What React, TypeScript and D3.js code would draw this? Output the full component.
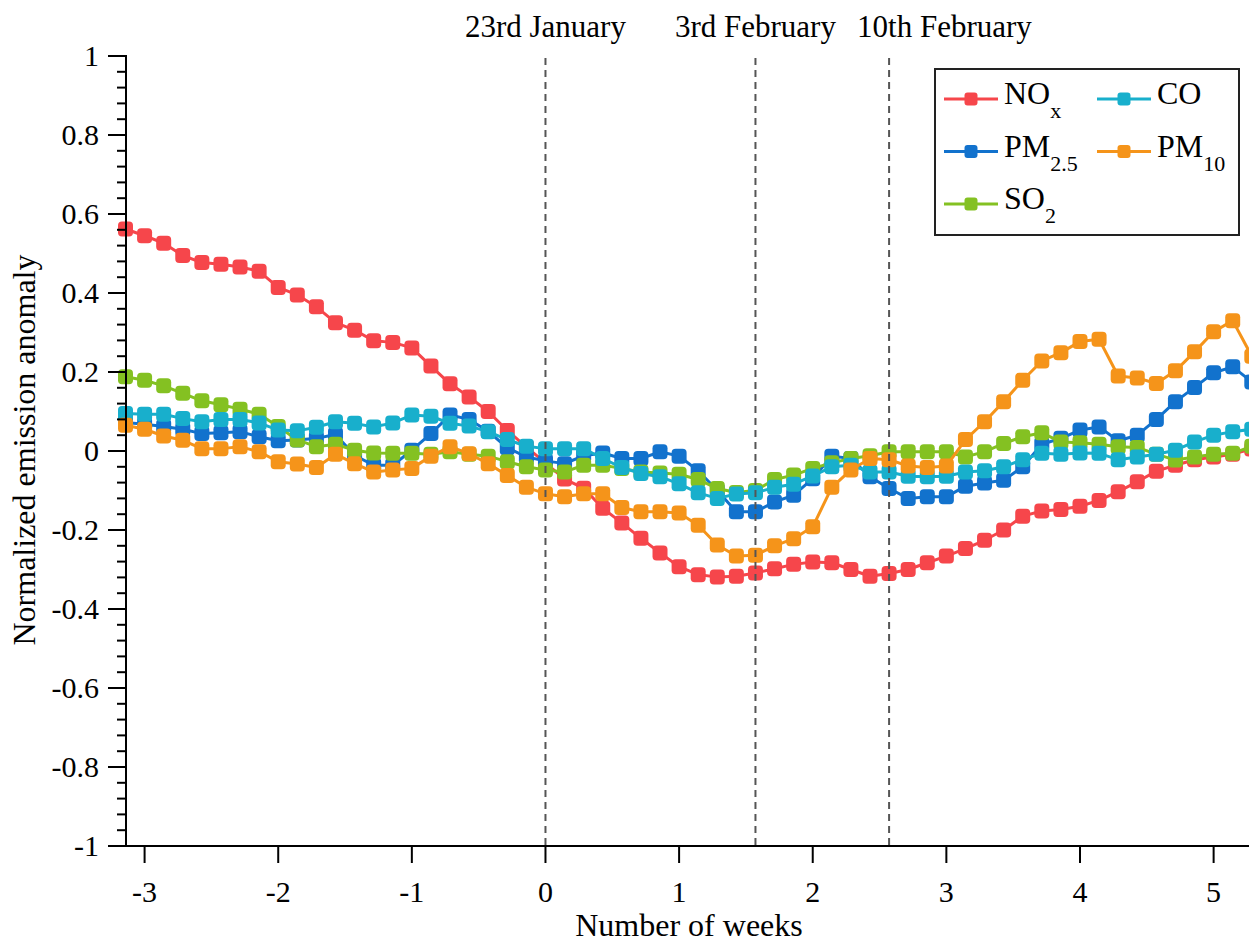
import React from 'react';
import * as d3 from 'd3';

// Day offsets relative to 23rd January (daily points)
const dayIndex: number[] = d3.range(-22, 38);

const noxValues = [
  0.562, 0.545, 0.526, 0.495, 0.477, 0.473, 0.466, 0.455, 0.414, 0.395,
  0.365, 0.325, 0.306, 0.279, 0.275, 0.261, 0.215, 0.170, 0.137, 0.100,
  0.052, 0.010, -0.030, -0.071, -0.094, -0.145, -0.182, -0.221, -0.258, -0.293,
  -0.313, -0.319, -0.317, -0.309, -0.298, -0.287, -0.281, -0.283, -0.300, -0.317,
  -0.310, -0.300, -0.283, -0.266, -0.247, -0.226, -0.200, -0.165, -0.152, -0.148,
  -0.140, -0.125, -0.103, -0.078, -0.051, -0.036, -0.022, -0.015, -0.008, 0.005,
];

const pm25Values = [
  0.072, 0.068, 0.062, 0.055, 0.044, 0.046, 0.049, 0.036, 0.026, 0.028,
  0.032, 0.042, -0.011, -0.036, -0.036, 0.002, 0.044, 0.091, 0.080, 0.050,
  0.008, -0.015, -0.025, -0.032, -0.012, -0.005, -0.019, -0.019, -0.002, -0.013,
  -0.050, -0.100, -0.154, -0.154, -0.129, -0.112, -0.070, -0.013, -0.019, -0.065,
  -0.095, -0.120, -0.116, -0.116, -0.089, -0.081, -0.074, -0.040, 0.017, 0.032,
  0.053, 0.061, 0.026, 0.040, 0.080, 0.125, 0.161, 0.198, 0.213, 0.175,
];

const so2Values = [
  0.188, 0.179, 0.165, 0.146, 0.127, 0.117, 0.106, 0.093, 0.062, 0.028,
  0.011, 0.017, 0.002, -0.005, -0.006, -0.006, -0.008, -0.002, -0.008, -0.013,
  -0.027, -0.040, -0.048, -0.053, -0.036, -0.036, -0.044, -0.053, -0.056, -0.059,
  -0.072, -0.095, -0.105, -0.100, -0.072, -0.061, -0.044, -0.030, -0.019, -0.012,
  -0.002, -0.002, -0.002, -0.002, -0.015, -0.002, 0.019, 0.036, 0.046, 0.023,
  0.021, 0.017, 0.011, 0.009, -0.008, -0.023, -0.015, -0.008, -0.006, 0.012,
];

const coValues = [
  0.095, 0.093, 0.093, 0.082, 0.074, 0.080, 0.080, 0.071, 0.053, 0.051,
  0.060, 0.074, 0.070, 0.061, 0.071, 0.091, 0.088, 0.070, 0.063, 0.049,
  0.029, 0.012, 0.006, 0.006, 0.006, -0.019, -0.042, -0.057, -0.065, -0.083,
  -0.106, -0.120, -0.109, -0.106, -0.092, -0.084, -0.063, -0.040, -0.036, -0.053,
  -0.053, -0.064, -0.065, -0.064, -0.053, -0.050, -0.040, -0.022, -0.006, -0.008,
  -0.005, -0.006, -0.022, -0.015, -0.008, 0.002, 0.023, 0.040, 0.049, 0.055,
];

const pm10Values = [
  0.065, 0.055, 0.038, 0.027, 0.006, 0.006, 0.011, -0.002, -0.027, -0.033,
  -0.042, -0.008, -0.032, -0.053, -0.048, -0.044, -0.013, 0.011, -0.007, -0.032,
  -0.062, -0.092, -0.108, -0.116, -0.108, -0.108, -0.143, -0.154, -0.154, -0.157,
  -0.188, -0.238, -0.266, -0.264, -0.240, -0.222, -0.192, -0.092, -0.048, -0.019,
  -0.022, -0.038, -0.042, -0.038, 0.029, 0.074, 0.125, 0.179, 0.228, 0.249,
  0.277, 0.283, 0.190, 0.185, 0.171, 0.203, 0.251, 0.302, 0.330, 0.240,
];

const seriesKeys = ['NOx', 'PM2.5', 'SO2', 'CO', 'PM10'];
const seriesMain = ['NO', 'PM', 'SO', 'CO', 'PM'];
const seriesSub = ['x', '2.5', '2', '', '10'];
const seriesColors = ['#f6464b', '#1272cd', '#84c122', '#18afcc', '#f5941a'];
const seriesValues = [noxValues, pm25Values, so2Values, coValues, pm10Values];

const yTicks = [-1, -0.8, -0.6, -0.4, -0.2, 0, 0.2, 0.4, 0.6, 0.8, 1];
const yTickLabels = ['-1', '-0.8', '-0.6', '-0.4', '-0.2', '0', '0.2', '0.4', '0.6', '0.8', '1'];
const xTicks = [-3, -2, -1, 0, 1, 2, 3, 4, 5];
const xTickLabels = ['-3', '-2', '-1', '0', '1', '2', '3', '4', '5'];
const eventLabels = ['23rd January', '3rd February', '10th February'];
const eventDays = [0, 11, 18];

const W = 1249;
const H = 945;
const FONT = '"Liberation Serif", "Times New Roman", Times, serif';

export default function App() {
  const x = d3.scaleLinear().domain([-22 / 7, 37 / 7]).range([125.5, 1251.8]);
  const y = d3.scaleLinear().domain([-1, 1]).range([846, 56]);
  const left = 126;
  const bottom = 846;

  const line = d3
    .line<[number, number]>()
    .x((d) => x(d[0] / 7))
    .y((d) => y(d[1]));

  const minorTicks = d3.range(-1, 1.0001, 0.04).filter(
    (v) => Math.abs(Math.round(v * 5) - v * 5) > 1e-6
  );

  const M = 15;

  // legend layout: order NOx, CO / PM2.5, PM10 / SO2
  const legendItems = [
    { i: 0, col: 0, row: 0 },
    { i: 3, col: 1, row: 0 },
    { i: 1, col: 0, row: 1 },
    { i: 4, col: 1, row: 1 },
    { i: 2, col: 0, row: 2 },
  ];

  return (
    <svg
      width={W}
      height={H}
      style={{ position: 'absolute', left: 0, top: 0, background: '#fff' }}
      fontFamily={FONT}
    >
      <rect x={0} y={0} width={W} height={H} fill="#fff" />

      {/* series */}
      {seriesValues.map((vals, si) => {
        const pts: [number, number][] = dayIndex.map((d, k) => [d, vals[k]]);
        return (
          <g key={seriesKeys[si]}>
            <path d={line(pts) || ''} fill="none" stroke={seriesColors[si]} strokeWidth={3} strokeLinejoin="round" />
            {pts.map((p, k) => (
              <rect
                key={k}
                x={x(p[0] / 7) - M / 2}
                y={y(p[1]) - M / 2}
                width={M}
                height={M}
                rx={4}
                fill={seriesColors[si]}
              />
            ))}
          </g>
        );
      })}

      {/* event dashed lines */}
      {eventDays.map((d, i) => (
        <line
          key={i}
          x1={x(d / 7)}
          x2={x(d / 7)}
          y1={58}
          y2={bottom}
          stroke="#555"
          strokeWidth={2}
          strokeDasharray="7,5"
        />
      ))}
      {eventLabels.map((lab, i) => (
        <text
          key={lab}
          x={i === 2 ? x(eventDays[i] / 7) - 32 : x(eventDays[i] / 7)}
          y={37}
          fontSize={31}
          textAnchor={i === 2 ? 'start' : 'middle'}
          fill="#000"
        >
          {lab}
        </text>
      ))}

      {/* axes */}
      <line x1={left} x2={left} y1={y(1) - 1} y2={bottom + 1} stroke="#000" strokeWidth={2} />
      <line x1={left} x2={W} y1={bottom} y2={bottom} stroke="#000" strokeWidth={2} />
      {yTicks.map((t, i) => (
        <g key={'yt' + i}>
          <line x1={left - 18} x2={left} y1={y(t)} y2={y(t)} stroke="#000" strokeWidth={2} />
          <text x={99} y={y(t) + 10} fontSize={30} textAnchor="end" fill="#000">
            {yTickLabels[i]}
          </text>
        </g>
      ))}
      {minorTicks.map((t, i) => (
        <line key={'ym' + i} x1={left - 9} x2={left} y1={y(t)} y2={y(t)} stroke="#000" strokeWidth={2} />
      ))}
      {xTicks.map((t, i) => (
        <g key={'xt' + i}>
          <line x1={x(t)} x2={x(t)} y1={bottom} y2={bottom + 17} stroke="#000" strokeWidth={2} />
          <text x={x(t)} y={902} fontSize={30} textAnchor="middle" fill="#000">
            {xTickLabels[i]}
          </text>
        </g>
      ))}

      <text x={689} y={936} fontSize={32} textAnchor="middle" fill="#000">
        Number of weeks
      </text>
      <text
        transform={`translate(35, 450) rotate(-90)`}
        fontSize={32}
        textAnchor="middle"
        fill="#000"
      >
        Normalized emission anomaly
      </text>

      {/* legend */}
      <rect x={935} y={69} width={304} height={166} fill="#fff" stroke="#222" strokeWidth={2} />
      {legendItems.map(({ i, col, row }) => {
        const lx = col === 0 ? 944 : 1097;
        const ly = 99 + row * 52.5;
        return (
          <g key={'lg' + i}>
            <line x1={lx} x2={lx + 54} y1={ly} y2={ly} stroke={seriesColors[i]} strokeWidth={3} />
            <rect x={lx + 27 - 6.5} y={ly - 6.5} width={13} height={13} rx={3} fill={seriesColors[i]} />
            <text x={lx + 60} y={ly + 5} fontSize={32} fill="#000">
              {seriesMain[i]}
              {seriesSub[i] ? (
                <tspan fontSize={22} dy={14}>
                  {seriesSub[i]}
                </tspan>
              ) : null}
            </text>
          </g>
        );
      })}
    </svg>
  );
}
